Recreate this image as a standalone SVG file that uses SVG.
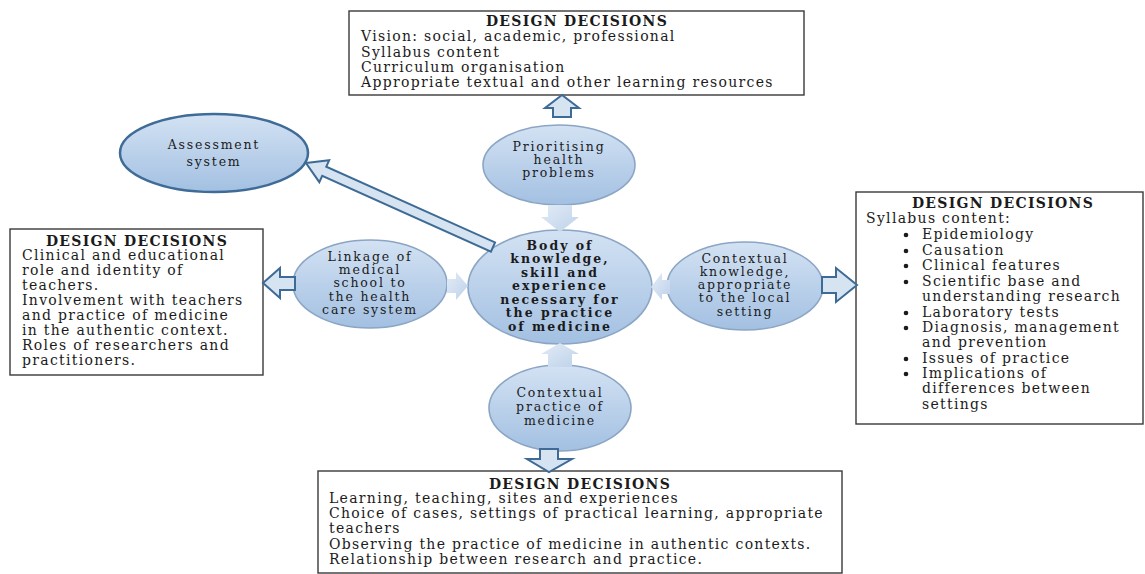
<svg xmlns="http://www.w3.org/2000/svg" width="1145" height="574" viewBox="0 0 1145 574">
<defs>
<linearGradient id="eg" x1="0" y1="0" x2="0" y2="1">
<stop offset="0" stop-color="#d3e2f3"/>
<stop offset="1" stop-color="#a3c0e2"/>
</linearGradient>
<linearGradient id="sg" x1="0" y1="0" x2="1" y2="1">
<stop offset="0" stop-color="#e2ebf6"/>
<stop offset="1" stop-color="#bed2ea"/>
</linearGradient>
<style>
.box{fill:#ffffff;stroke:#3a3a3a;stroke-width:1.4}
.ell{fill:url(#eg);stroke:#8ba5c4;stroke-width:1.6}
.ell2{fill:url(#eg);stroke:#3f6c96;stroke-width:2.5}
.blk{fill:#d6e4f2;stroke:#3d6b95;stroke-width:2;stroke-linejoin:miter}
.soft{fill:url(#sg);stroke:none}
text{font-family:"DejaVu Serif","Liberation Serif",serif;font-size:14px;letter-spacing:1.3px;fill:#1b1b1b}
.t{font-weight:bold;text-anchor:middle}
.c{text-anchor:middle;font-size:12.5px;letter-spacing:1.8px}
.cb{text-anchor:middle;font-weight:bold;font-size:12.5px;letter-spacing:2px}
</style>
</defs>

<g id="box-top">
<rect class="box" x="349" y="11" width="455" height="84"/>
<text class="t" x="577" y="26">DESIGN DECISIONS</text>
<text x="361" y="41">Vision: social, academic, professional</text>
<text x="361" y="57">Syllabus content</text>
<text x="361" y="72">Curriculum organisation</text>
<text x="361" y="87">Appropriate textual and other learning resources</text>
</g>

<g id="box-left">
<rect class="box" x="10" y="229" width="253" height="146"/>
<text class="t" x="137" y="246">DESIGN DECISIONS</text>
<text x="22" y="260">Clinical and educational</text>
<text x="22" y="275">role and identity of</text>
<text x="22" y="290">teachers.</text>
<text x="22" y="305">Involvement with teachers</text>
<text x="22" y="320">and practice of medicine</text>
<text x="22" y="335">in the authentic context.</text>
<text x="22" y="350">Roles of researchers and</text>
<text x="22" y="365">practitioners.</text>
</g>

<g id="box-right">
<rect class="box" x="856" y="192" width="287" height="232"/>
<text class="t" x="1003" y="208">DESIGN DECISIONS</text>
<text x="866" y="223">Syllabus content:</text>
<g fill="#1b1b1b">
<circle cx="906" cy="235" r="2.3"/>
<circle cx="906" cy="251" r="2.3"/>
<circle cx="906" cy="266" r="2.3"/>
<circle cx="906" cy="282" r="2.3"/>
<circle cx="906" cy="313" r="2.3"/>
<circle cx="906" cy="328" r="2.3"/>
<circle cx="906" cy="359" r="2.3"/>
<circle cx="906" cy="374" r="2.3"/>
</g>
<text x="922" y="239">Epidemiology</text>
<text x="922" y="255">Causation</text>
<text x="922" y="270">Clinical features</text>
<text x="922" y="286">Scientific base and</text>
<text x="922" y="301">understanding research</text>
<text x="922" y="317">Laboratory tests</text>
<text x="922" y="332">Diagnosis, management</text>
<text x="922" y="347">and prevention</text>
<text x="922" y="363">Issues of practice</text>
<text x="922" y="378">Implications of</text>
<text x="922" y="393">differences between</text>
<text x="922" y="409">settings</text>
</g>

<g id="box-bottom">
<rect class="box" x="318" y="471" width="524" height="102"/>
<text class="t" x="580" y="489">DESIGN DECISIONS</text>
<text x="329" y="503">Learning, teaching, sites and experiences</text>
<text x="329" y="518">Choice of cases, settings of practical learning, appropriate</text>
<text x="329" y="533">teachers</text>
<text x="329" y="549">Observing the practice of medicine in authentic contexts.</text>
<text x="329" y="564">Relationship between research and practice.</text>
</g>

<g id="node-assessment">
<ellipse class="ell2" cx="214" cy="153" rx="94" ry="39"/>
<text class="c" x="214" y="149">Assessment</text>
<text class="c" x="214" y="166">system</text>
</g>

<g id="node-prioritising">
<ellipse class="ell" cx="559" cy="165" rx="76" ry="40"/>
<text class="c" x="559" y="151">Prioritising</text>
<text class="c" x="559" y="164">health</text>
<text class="c" x="559" y="177">problems</text>
</g>

<g id="node-body">
<ellipse class="ell" cx="560" cy="287" rx="92" ry="57"/>
<text class="cb" x="560" y="250">Body of</text>
<text class="cb" x="560" y="263">knowledge,</text>
<text class="cb" x="560" y="277">skill and</text>
<text class="cb" x="560" y="290">experience</text>
<text class="cb" x="560" y="304">necessary for</text>
<text class="cb" x="560" y="317">the practice</text>
<text class="cb" x="560" y="331">of medicine</text>
</g>

<g id="node-linkage">
<ellipse class="ell" cx="370" cy="284" rx="77" ry="44"/>
<text class="c" x="370" y="261">Linkage of</text>
<text class="c" x="370" y="274">medical</text>
<text class="c" x="370" y="287">school to</text>
<text class="c" x="370" y="301">the health</text>
<text class="c" x="370" y="314">care system</text>
</g>

<g id="node-contextual-knowledge">
<ellipse class="ell" cx="745" cy="286" rx="78" ry="44"/>
<text class="c" x="745" y="263">Contextual</text>
<text class="c" x="745" y="276">knowledge,</text>
<text class="c" x="745" y="289">appropriate</text>
<text class="c" x="745" y="302">to the local</text>
<text class="c" x="745" y="316">setting</text>
</g>

<g id="node-contextual-practice">
<ellipse class="ell" cx="560" cy="408" rx="71" ry="43"/>
<text class="c" x="560" y="397">Contextual</text>
<text class="c" x="560" y="411">practice of</text>
<text class="c" x="560" y="425">medicine</text>
</g>

<g id="connectors">
<path class="soft" d="M548,205 L572,205 L572,217 L579,217 L560,232 L541,217 L548,217 Z"/>
<path class="soft" d="M548,367 L572,367 L572,354 L579,354 L560,343 L541,354 L548,354 Z"/>
<path class="soft" d="M670,280 L662,280 L662,273 L651,287 L662,300 L662,294 L670,294 Z"/>
<path class="soft" d="M447,279 L456,279 L456,272 L468,286 L456,300 L456,293 L447,293 Z"/>
<path class="blk" d="M553,117 L553,108 L545,108 L562,95 L579,108 L571,108 L571,117 Z"/>
<path class="blk" d="M540,449 L558,449 L558,459 L572,459 L549,472 L527,459 L540,459 Z"/>
<path class="blk" d="M822,277 L836,277 L836,268 L857,285 L836,302 L836,293 L822,293 Z"/>
<path class="blk" d="M295,277 L280,277 L280,268 L263,283 L280,298 L280,290 L295,290 Z"/>
<path class="blk" transform="translate(306,163) rotate(24.19)" d="M0,0 L20,-12 L20,-5 L205,-5 L205,5 L20,5 L20,12 Z"/>
</g>
</svg>
